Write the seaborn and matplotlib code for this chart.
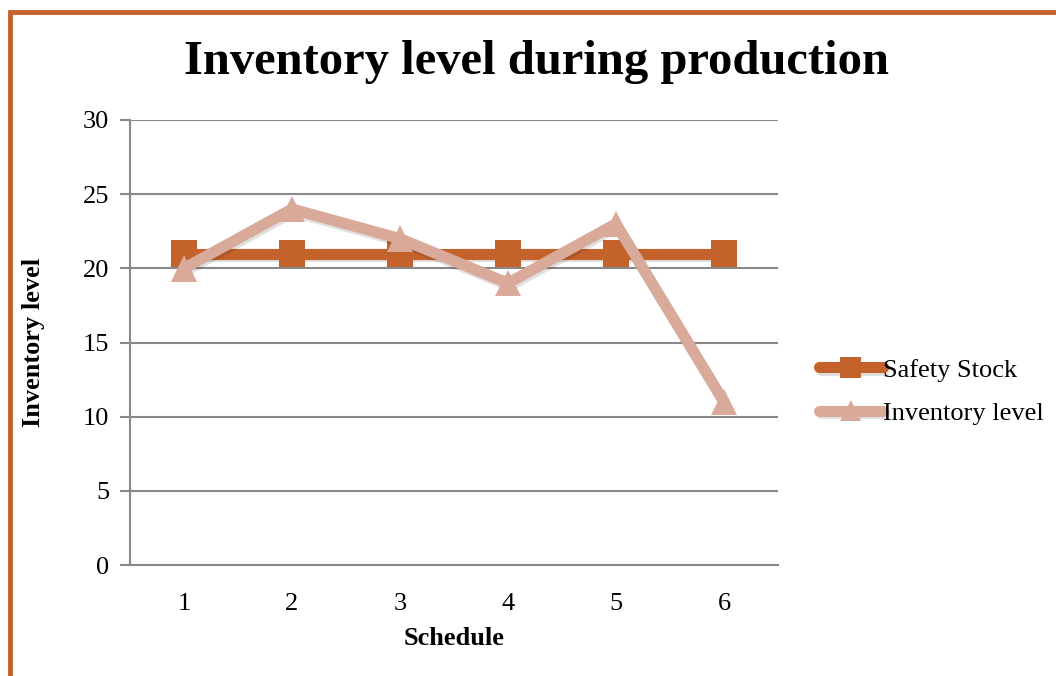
import matplotlib
matplotlib.use("Agg")
import matplotlib.pyplot as plt
import matplotlib.patheffects as pe
from matplotlib.patches import Rectangle
import seaborn as sns
import pandas as pd

schedule = [1, 2, 3, 4, 5, 6]
safety_stock = [21, 21, 21, 21, 21, 21]
inventory_level = [20, 24, 22, 19, 23, 11]
series_names = ["Safety Stock", "Inventory level"]
y_ticks = [0, 5, 10, 15, 20, 25, 30]

df = pd.DataFrame({
    "Schedule": schedule * 2,
    "Value": safety_stock + inventory_level,
    "Series": [series_names[0]] * len(schedule) + [series_names[1]] * len(schedule),
})

sns.set_theme(style="white")
plt.rcParams["font.family"] = ["Liberation Serif", "DejaVu Serif"]
plt.rcParams["text.color"] = "black"

fig = plt.figure(figsize=(10.56, 6.76), dpi=100)
ax = fig.add_axes([130 / 1056, 1 - 565 / 676, 648 / 1056, 445 / 676])

palette = {series_names[0]: "#C4622C", series_names[1]: "#D9A99A"}
markers = {series_names[0]: "s", series_names[1]: "^"}
sns.lineplot(data=df, x="Schedule", y="Value", hue="Series", style="Series",
             palette=palette, markers=markers, dashes=False, linewidth=8,
             markersize=19, markeredgewidth=0, ax=ax, legend=True)

shadow = [pe.SimpleLineShadow(offset=(1, -2), shadow_color="black", alpha=0.12), pe.Normal()]
for line in ax.lines:
    line.set_path_effects(shadow)

ax.set_xlim(0.5, 6.5)
ax.set_ylim(0, 30)
ax.set_yticks(y_ticks)
ax.set_xticks(schedule)
ax.tick_params(axis="y", labelsize=19, length=7, width=1.5, color="#888888", pad=8, left=True,
               labelcolor="black")
ax.tick_params(axis="x", labelsize=19, length=0, pad=20, labelcolor="black")

ax.grid(axis="y", color="#888888", linewidth=1.5)
ax.grid(axis="x", visible=False)
ax.set_axisbelow(True)
for s in ["top", "right"]:
    ax.spines[s].set_visible(False)
for s in ["left", "bottom"]:
    ax.spines[s].set_color("#888888")
    ax.spines[s].set_linewidth(1.5)

ax.set_xlabel("Schedule", fontsize=19, fontweight="bold", labelpad=9, color="black")
ax.set_ylabel("Inventory level", fontsize=19, fontweight="bold", labelpad=27, color="black")

leg = ax.legend(loc="center left", bbox_to_anchor=(1.027, 0.39), frameon=False,
                fontsize=19, handlelength=2.4, handletextpad=0.0, labelspacing=0.75)
for h in leg.get_lines():
    h.set_linewidth(8)
    h.set_markersize(15)
for t in leg.get_texts():
    t.set_color("black")

fig.text(537 / 1056, 1 - 62 / 676, "Inventory level during production",
         ha="center", va="center", fontsize=35, fontweight="bold", color="black")

fig.patches.append(Rectangle((10 / 1056, -0.1), 1.2, (1 - 12 / 676) + 0.1,
                             transform=fig.transFigure, fill=False,
                             edgecolor="#C5622B", linewidth=3.5))

fig.savefig("out.png", dpi=100)
